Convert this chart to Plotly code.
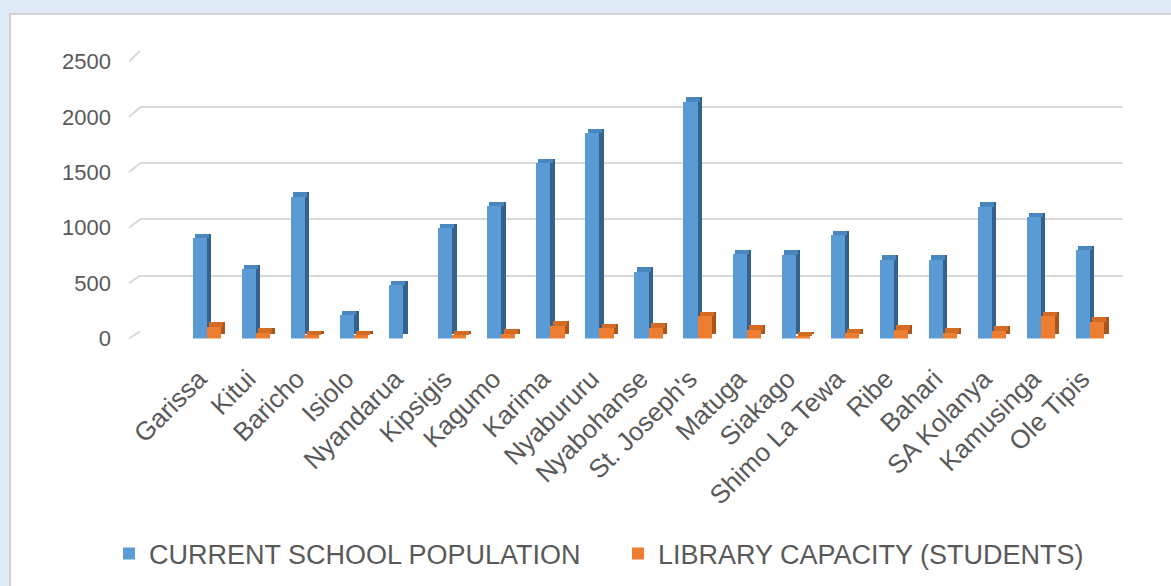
import plotly.graph_objects as go

# ---------------- data ----------------
schools = ["Garissa", "Kitui", "Baricho", "Isiolo", "Nyandarua", "Kipsigis", "Kagumo",
           "Karima", "Nyabururu", "Nyabohanse", "St. Joseph's", "Matuga", "Siakago",
           "Shimo La Tewa", "Ribe", "Bahari", "SA Kolanya", "Kamusinga", "Ole Tipis"]
population = [910, 630, 1285, 215, 485, 1000, 1200, 1585, 1855, 605, 2140,
              765, 758, 935, 713, 713, 1195, 1100, 800]
capacity = [110, 55, 35, 35, 0, 35, 45, 120, 95, 100, 205,
            85, 25, 50, 85, 55, 75, 205, 155]
y_ticks = [0, 500, 1000, 1500, 2000, 2500]
series_names = ["CURRENT SCHOOL POPULATION", "LIBRARY CAPACITY (STUDENTS)"]

# ---------------- geometry (pixels) ----------------
W, H = 1171, 586
def fx(px): return px / W
def fy(py): return 1 - py / H

FRONT_X0, FRONT_X1 = 130, 1125
CENTER0, STEP = 207, 49.06
front_xrange = [(FRONT_X0 - CENTER0) / STEP, (FRONT_X1 - CENTER0) / STEP]
FRONT_Y0, FRONT_Y1 = 338.5, 61.5          # pixel rows of 0 and 2500 (front plane)
BACK_X0, BACK_X1 = 140, 1123
BACK_Y0, BACK_Y1 = 331.7, 51              # pixel rows of 0 and 2500 (back wall)
YMAX = 2500

BAR_W = 0.288
DEPTH_X = 0.088
DEPTH_Y = 41

colors = {
    "blue": ("#5b9bd5", "#4a86c0", "#33628e"),
    "orange": ("#ed7d31", "#d46b23", "#a9561c"),
}

fig = go.Figure()

# empty trace so that the back-wall (grid) subplot is created
fig.add_trace(go.Scatter(x=[], y=[], xaxis="x", yaxis="y", showlegend=False, hoverinfo="skip"))

def add_series(values, name, cols, offset, legend):
    front, cap, side = cols
    # side / depth face
    fig.add_trace(go.Bar(x=schools, y=values, base=DEPTH_Y, offset=offset + DEPTH_X,
                         width=BAR_W, marker=dict(color=side, line=dict(width=0)),
                         xaxis="x2", yaxis="y2", showlegend=False, hoverinfo="skip"))
    # top cap
    fig.add_trace(go.Bar(x=schools, y=[DEPTH_Y if v > 0 else 0 for v in values], base=values,
                         offset=offset + DEPTH_X / 2, width=BAR_W,
                         marker=dict(color=cap, line=dict(width=0)),
                         xaxis="x2", yaxis="y2", showlegend=False, hoverinfo="skip"))
    # front face
    fig.add_trace(go.Bar(x=schools, y=values, offset=offset, width=BAR_W, name=name,
                         marker=dict(color=front, line=dict(width=0)),
                         xaxis="x2", yaxis="y2", legend=legend))

add_series(population, series_names[0], colors["blue"], -BAR_W, "legend")
add_series(capacity, series_names[1], colors["orange"], 0, "legend2")

# white chart panel + slanted connectors from front tick to back gridline
shapes = [dict(type="rect", xref="paper", yref="paper", x0=fx(10), x1=1.05,
               y0=-0.05, y1=fy(14), fillcolor="white",
               line=dict(color="#d0d0d0", width=2), layer="below")]
for t in y_ticks:
    yf = FRONT_Y0 + (FRONT_Y1 - FRONT_Y0) * t / YMAX
    yb = BACK_Y0 + (BACK_Y1 - BACK_Y0) * t / YMAX
    shapes.append(dict(type="line", xref="paper", yref="paper",
                       x0=fx(129), y0=fy(yf), x1=fx(BACK_X0), y1=fy(yb),
                       line=dict(color="#d9d9d9", width=2), layer="above"))

legend_common = dict(orientation="h", yanchor="middle", y=fy(554), xanchor="left",
                     font=dict(family="Liberation Sans, Arial, sans-serif", size=27, color="#595959"),
                     bgcolor="rgba(0,0,0,0)", borderwidth=0)

fig.update_layout(
    width=W, height=H,
    margin=dict(l=0, r=0, t=0, b=0, autoexpand=False),
    paper_bgcolor="#deebf7",
    plot_bgcolor="rgba(0,0,0,0)",
    barmode="overlay",
    bargap=0,
    shapes=shapes,
    # back wall gridlines
    xaxis=dict(domain=[fx(BACK_X0), fx(BACK_X1)], range=[0, 1], anchor="y", automargin=False,
               showgrid=False, zeroline=False, showticklabels=False, showline=False, ticks=""),
    yaxis=dict(domain=[fy(BACK_Y0), fy(BACK_Y1)], range=[0, YMAX], anchor="x", automargin=False,
               tickvals=y_ticks, showgrid=True, gridcolor="#d9d9d9", gridwidth=2,
               zeroline=False, showticklabels=False, showline=False, ticks=""),
    # front plane (bars, labels)
    xaxis2=dict(domain=[fx(FRONT_X0), fx(FRONT_X1)], range=front_xrange, anchor="y2",
                automargin=False, type="category", showgrid=False, zeroline=False,
                showline=False, ticks="", tickangle=-45, ticklabelstandoff=19,
                ticklabelshift=-8,
                tickfont=dict(family="Liberation Sans, Arial, sans-serif", size=26, color="#595959")),
    yaxis2=dict(domain=[fy(FRONT_Y0), fy(FRONT_Y1)], range=[0, YMAX], anchor="x2",
                automargin=False, tickvals=y_ticks, showgrid=False, zeroline=False,
                showline=False, ticks="", ticklabelstandoff=18,
                tickfont=dict(family="Liberation Sans, Arial, sans-serif", size=22, color="#595959")),
    legend=dict(x=fx(109), **legend_common),
    legend2=dict(x=fx(618), **legend_common),
)

fig.write_html("out.html")
